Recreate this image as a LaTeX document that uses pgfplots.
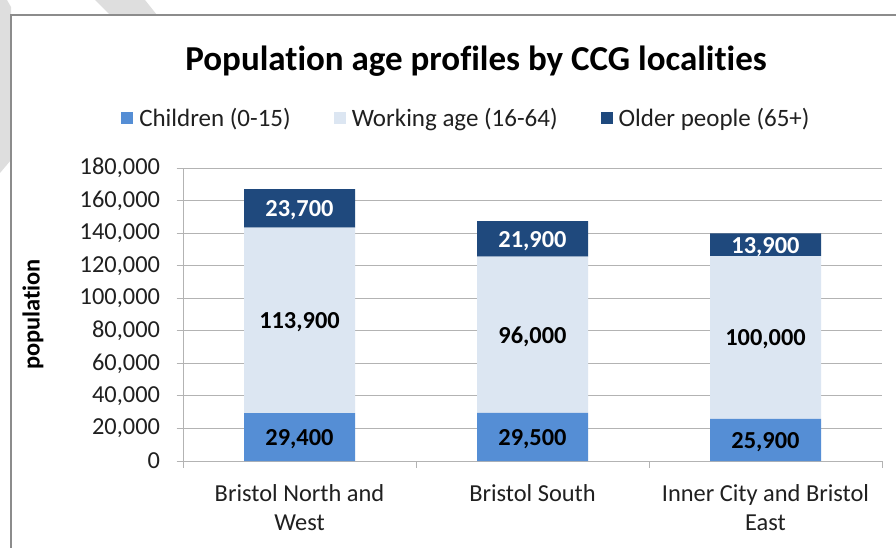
\documentclass[border=0pt]{standalone}
\usepackage{pgfplots}
\pgfplotsset{compat=1.18}
\usepackage{fontspec}
\setmainfont{Carlito}[Ligatures=NoCommon]
\definecolor{cChild}{HTML}{558ED5}
\definecolor{cWork}{HTML}{DCE6F2}
\definecolor{cOld}{HTML}{1F497D}
\definecolor{gridc}{HTML}{B3B3B3}
\definecolor{framec}{HTML}{8C8C8C}
\definecolor{stripe}{HTML}{DEDEDE}
\definecolor{txt}{HTML}{202020}
\begin{document}
\begin{tikzpicture}
\path[use as bounding box] (0pt,0pt) rectangle (896pt,547pt);
\clip (0pt,0pt) rectangle (896pt,547pt);
\fill[stripe] (95pt,547pt) -- (145pt,547pt) -- (157pt,532pt) -- (110pt,532pt) -- cycle;
\fill[stripe] (0pt,547pt) -- (7pt,547pt) -- (11pt,540pt) -- (11pt,387pt) -- (0pt,374pt) -- cycle;
\draw[framec, line width=2pt, fill=white] (10.5pt,-10pt) rectangle (910pt,531.5pt);
\node[font=\fontsize{35}{40}\selectfont\bfseries, text=black] at (476pt,486pt) {Population age profiles by CCG localities};
\begin{axis}[
  at={(183pt,86pt)}, anchor=south west,
  scale only axis, width=699pt, height=293pt,
  ybar stacked, bar width=111pt,
  xmin=-0.5, xmax=2.5, ymin=0, ymax=180000,
  axis lines*=left,
  axis line style={gridc, line width=1pt},
  xtick={-0.5,0.5,1.5,2.5},
  xticklabels={,,,},
  extra x ticks={0,1,2},
  extra x tick labels={{Bristol North and\\West},{Bristol South},{Inner City and Bristol\\East}},
  extra x tick style={major tick length=0pt, tick style={draw=none}},
  xticklabel style={align=center, font=\fontsize{24.4}{29}\selectfont, text=txt, yshift=-20pt},
  tick align=outside,
  major tick length=6.5pt,
  every tick/.style={gridc, line width=1pt},
  ytick={0,20000,...,180000},
  scaled y ticks=false,
  /pgf/number format/fixed,
  /pgf/number format/precision=0,
  /pgf/number format/1000 sep={,},
  /pgf/number format/assume math mode=true,
  yticklabel style={font=\fontsize{24.4}{29}\selectfont, text=txt, xshift=-13pt},
  ymajorgrids,
  major grid style={gridc, line width=1pt},
  ylabel={population},
  ylabel style={at={(axis description cs:-0.2146,0.5)}, anchor=center, font=\fontsize{24.4}{29}\selectfont\bfseries, text=black},
  legend columns=3,
  legend style={draw=none, fill=none, at={(0.4040,1.1706)}, anchor=center,
    font=\fontsize{25}{29}\selectfont, text=txt,
    nodes={inner sep=0pt},
    /tikz/every odd column/.append style={column sep=6pt},
    /tikz/every even column/.append style={column sep=43pt}},
  legend image code/.code={\path[#1, draw=none] (0pt,-6pt) rectangle (12pt,6pt);},
  point meta=rawy,
  nodes near coords={\pgfmathprintnumber[fixed,precision=0,1000 sep={,},assume math mode=true]{\pgfplotspointmeta}},
  every node near coord/.style={anchor=center, yshift=-2pt, font=\fontsize{24.4}{29}\selectfont\bfseries, text=black},
]
\addplot[fill=cChild, draw=none] coordinates {(0,29400) (1,29500) (2,25900)};
\addplot[fill=cWork, draw=none] coordinates {(0,113900) (1,96000) (2,100000)};
\addplot[fill=cOld, draw=none, every node near coord/.append style={text=white}] coordinates {(0,23700) (1,21900) (2,13900)};
\legend{Children (0-15),Working age (16-64),Older people (65+)}
\end{axis}
\end{tikzpicture}
\end{document}
